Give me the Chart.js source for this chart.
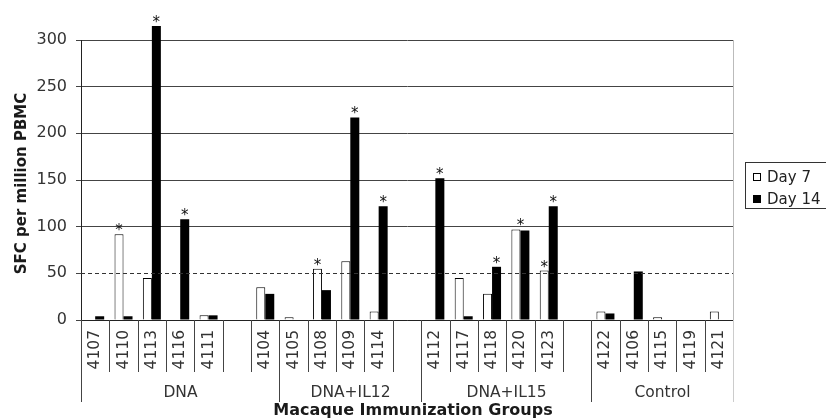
<!DOCTYPE html>
<html>
<head>
<meta charset="utf-8">
<script src="https://cdn.jsdelivr.net/npm/chart.js@4.4.1/dist/chart.umd.min.js"></script>
<style>
  html, body { margin: 0; padding: 0; background: #fff; overflow: hidden; }
  #wrap { position: relative; width: 826px; height: 420px; }
  #legend {
    position: absolute; left: 745px; top: 162px; width: 100px; height: 47px;
    border: 1px solid #333; box-sizing: border-box;
    font-family: "DejaVu Sans", Verdana, sans-serif; font-size: 15px; color: #222;
  }
  .li { position: absolute; left: 7px; height: 20px; line-height: 20px; white-space: nowrap; }
  .sw { display: inline-block; width: 6px; height: 6px; border: 1px solid #000; margin-right: 6px; vertical-align: 1px; }
</style>
</head>
<body>
<div id="wrap">
  <canvas id="c" width="826" height="420"></canvas>
  <div id="legend">
    <div class="li" style="top:4px"><span class="sw" style="background:#fff"></span>Day 7</div>
    <div class="li" style="top:26px"><span class="sw" style="background:#000"></span>Day 14</div>
  </div>
</div>
<script>
// ---- data ----
const categories = ['4107','4110','4113','4116','4111','','4104','4105','4108','4109','4114','','4112','4117','4118','4120','4123','','4122','4106','4115','4119','4121'];
const day7  = [0, 92, 45, 0, 5, null, 35, 3, 55, 63, 9, null, 0, 45, 28, 97, 53, null, 9, 0, 3, 0, 9];
const day14 = [4, 4, 315, 108, 5, null, 28, 0, 32, 217, 122, null, 152, 4, 57, 96, 122, null, 7, 52, 0, 0, 0];
// significance asterisks
const star7   = [0,1,0,0,0,0,0,0,1,0,0,0,0,0,0,0,1,0,0,0,0,0,0];
const star14  = [0,0,1,1,0,0,0,0,0,1,1,0,1,0,1,0,1,0,0,0,0,0,0];
const starPair= [0,0,0,0,0,0,0,0,0,0,0,0,0,0,0,1,0,0,0,0,0,0,0];
// immunization groups: name and number of category slots spanned
const groupNames = ['DNA','DNA+IL12','DNA+IL15','Control'];
const groupSlots = [7, 5, 6, 5];
const yMin = 0, yMax = 300, yStep = 50;
const thresholdValue = 50;
const seriesNames = ['Day 7','Day 14'];
const xTitle = 'Macaque Immunization Groups';
const yTitle = 'SFC per million PBMC';

const FONT = '"DejaVu Sans", Verdana, sans-serif';

const overlay = {
  id: 'overlay',
  afterDraw(chart) {
    const ctx = chart.ctx;
    const x = chart.scales.x, y = chart.scales.y;
    const area = chart.chartArea;
    const slotW = x.getPixelForValue(1) - x.getPixelForValue(0);
    const bx = i => Math.round(x.getPixelForValue(0) - slotW / 2 + i * slotW) + 0.5;
    ctx.save();
    // dashed threshold line
    const ty = Math.round(y.getPixelForValue(thresholdValue)) + 0.5;
    ctx.strokeStyle = '#333'; ctx.lineWidth = 1; ctx.setLineDash([4, 3]);
    ctx.beginPath(); ctx.moveTo(area.left, ty); ctx.lineTo(area.right, ty); ctx.stroke();
    ctx.setLineDash([]);
    // right border
    ctx.strokeStyle = '#bbb';
    ctx.beginPath(); ctx.moveTo(Math.round(area.right) + 0.5, area.top); ctx.lineTo(Math.round(area.right) + 0.5, area.bottom); ctx.stroke();
    // category separators
    ctx.strokeStyle = '#444';
    for (let i = 1; i < categories.length; i++) {
      ctx.beginPath(); ctx.moveTo(bx(i), area.bottom); ctx.lineTo(bx(i), area.bottom + 52); ctx.stroke();
    }
    // group separators and labels
    let s = 0;
    ctx.fillStyle = '#333';
    ctx.font = '15.5px ' + FONT;
    ctx.textAlign = 'center'; ctx.textBaseline = 'middle';
    for (let g = 0; g < groupNames.length; g++) {
      ctx.strokeStyle = '#444';
      ctx.beginPath(); ctx.moveTo(bx(s), area.bottom); ctx.lineTo(bx(s), area.bottom + 82); ctx.stroke();
      const e = s + groupSlots[g];
      ctx.fillText(groupNames[g], (bx(s) + bx(e)) / 2, area.bottom + 73);
      s = e;
    }
    ctx.strokeStyle = '#ccc';
    ctx.beginPath(); ctx.moveTo(bx(s), area.bottom); ctx.lineTo(bx(s), area.bottom + 82); ctx.stroke();
    // axis titles
    ctx.fillStyle = '#1a1a1a';
    ctx.font = 'bold 16px ' + FONT;
    ctx.fillText(xTitle, (area.left + area.right) / 2 + 6, area.bottom + 91);
    ctx.save();
    ctx.translate(22.5, (area.top + area.bottom) / 2 + 3.5);
    ctx.rotate(-Math.PI / 2);
    ctx.font = 'bold 15px ' + FONT;
    ctx.fillText(yTitle, 0, 0);
    ctx.restore();
    // asterisks
    const m7 = chart.getDatasetMeta(0).data, m14 = chart.getDatasetMeta(1).data;
    ctx.fillStyle = '#111';
    ctx.font = '15px ' + FONT;
    ctx.textAlign = 'center'; ctx.textBaseline = 'alphabetic';
    for (let i = 0; i < categories.length; i++) {
      if (star7[i]) ctx.fillText('*', m7[i].x, m7[i].y + 1);
      if (star14[i]) ctx.fillText('*', m14[i].x, m14[i].y + 1);
      if (starPair[i]) ctx.fillText('*', (m7[i].x + m14[i].x) / 2, Math.min(m7[i].y, m14[i].y) + 1);
    }
    ctx.restore();
  }
};

new Chart(document.getElementById('c'), {
  type: 'bar',
  data: {
    labels: categories,
    datasets: [
      { label: seriesNames[0], data: day7, backgroundColor: '#fff', borderColor: '#000', borderWidth: 1, clip: false },
      { label: seriesNames[1], data: day14, backgroundColor: '#000', borderColor: '#000', borderWidth: 0, clip: false }
    ]
  },
  options: {
    responsive: false,
    animation: false,
    devicePixelRatio: 1,
    layout: { padding: { top: 40, right: 93, bottom: 0, left: 0 } },
    datasets: { bar: { categoryPercentage: 0.635, barPercentage: 1 } },
    plugins: { legend: { display: false }, tooltip: { enabled: false } },
    scales: {
      x: {
        afterFit(scale) { scale.height = 100; },
        grid: { display: false, drawTicks: false },
        border: { display: true, color: '#222' },
        ticks: {
          autoSkip: false, minRotation: 90, maxRotation: 90, padding: 10,
          color: '#333', font: { family: FONT, size: 15.5 }
        }
      },
      y: {
        min: yMin, max: yMax,
        afterFit(scale) { scale.width = 81; },
        grid: {
          color: ctx => (ctx.tick && ctx.tick.value === thresholdValue) ? 'rgba(0,0,0,0)' : '#444',
          tickColor: '#444', tickLength: 5
        },
        border: { display: true, color: '#222' },
        ticks: { stepSize: yStep, padding: 9, color: '#333', font: { family: FONT, size: 16 } }
      }
    }
  },
  plugins: [overlay]
});
</script>
</body>
</html>
